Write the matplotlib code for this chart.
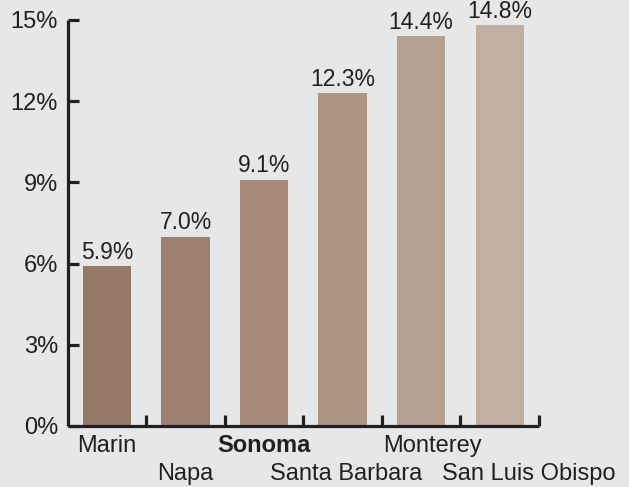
import numpy as np
import matplotlib.pyplot as plt

counties = ['Marin', 'Napa', 'Sonoma', 'Santa Barbara', 'Monterey', 'San Luis Obispo']
rates = [5.9, 7.0, 9.1, 12.3, 14.4, 14.8]
yticks = [0, 3, 6, 9, 12, 15]

bar_colors = ['#957867', '#9d8170', '#a68b7a', '#ae9685', '#b6a292', '#c1afa1']
label_shift = [0, 0, 0, 0.04, 0.15, 0.37]   # label nudges, in bar widths
bg = '#e6e7e9'
ink = '#231f20'

plt.rcParams['font.family'] = ['Liberation Sans', 'DejaVu Sans']

fig = plt.figure(figsize=(6.29, 4.87), dpi=100, facecolor=bg)
ax = fig.add_axes([0.1078, 0.1253, 0.7490, 0.8337], facecolor=bg)

x = np.arange(len(counties))
ax.bar(x, rates, width=0.615, color=bar_colors, zorder=2)

for xi, v in zip(x, rates):
    ax.text(xi, v + 0.08, f'{v:.1f}%', ha='center', va='bottom',
            fontsize=16.5, color=ink)

ax.set_xlim(-0.5, 5.5)
ax.set_ylim(0, 15)

for s in ['top', 'right']:
    ax.spines[s].set_visible(False)
for s in ['left', 'bottom']:
    ax.spines[s].set_linewidth(2.3)
    ax.spines[s].set_color(ink)
    ax.spines[s].set_capstyle('butt')

ax.set_yticks(yticks)
ax.set_yticklabels([f'{t}%' for t in yticks])
ax.tick_params(axis='y', direction='in', length=8, width=2.3, color=ink,
               labelsize=17, labelcolor=ink, pad=7)

ax.set_xticks(x + 0.5)
ax.set_xticklabels([])
ax.tick_params(axis='x', direction='in', length=8, width=2.3, color=ink)

# two staggered rows of county names
for i, name in enumerate(counties):
    row_off = -26 if i % 2 == 0 else -54
    ax.annotate(name, xy=(x[i] + label_shift[i], 0), xycoords='data',
                xytext=(0, row_off), textcoords='offset pixels',
                ha='center', va='baseline', fontsize=17, color=ink,
                fontweight='bold' if name == 'Sonoma' else 'normal',
                annotation_clip=False)

fig.savefig('out.png', dpi=100, facecolor=bg)
